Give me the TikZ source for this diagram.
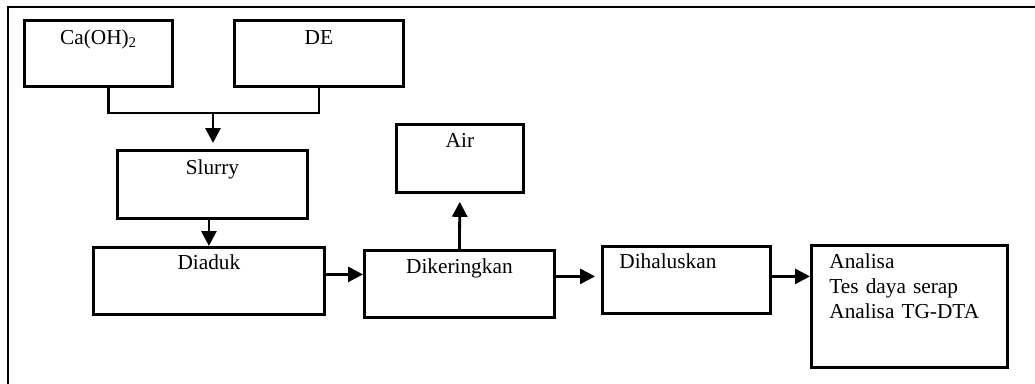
\documentclass[tikz,border=0pt]{standalone}
\usepackage{fontspec}
\setmainfont{Liberation Serif}
\usetikzlibrary{arrows.meta,calc}
\begin{document}
\begin{tikzpicture}[x=1pt,y=-1pt,
  box/.style={draw, line width=2.8pt, inner ysep=0pt, inner xsep=0pt, anchor=north west,
    font=\fontsize{21.3}{25}\selectfont},
  arr/.style={line width=2.8pt, -{Triangle[length=15pt,width=15pt]}},
  conn/.style={line width=2.8pt}]
\useasboundingbox (0,0) rectangle (1035,383);
% outer frame (left and top edges visible)
\coordinate (fbl) at (8,390);
\coordinate (ftl) at (8,7);
\coordinate (ftr) at (1040,7);
\draw[line width=2.8pt] (fbl) -- (ftl) -- (ftr);
% boxes
\node[box, text width=148pt, text height=24pt, text depth=42pt, align=center] (ca) at (23,19) {Ca(OH)\textsubscript{2}};
\node[box, text width=169pt, text height=24pt, text depth=42pt, align=center] (de) at (233,19) {DE};
\node[box, text width=190pt, text height=24pt, text depth=44pt, align=center] (sl) at (116,149) {Slurry};
\node[box, text width=231pt, text height=22pt, text depth=45pt, align=center] (di) at (92,246) {Diaduk};
\node[box, text width=127pt, text height=23pt, text depth=45pt, align=center] (air) at (395,123) {Air};
\node[box, text width=190pt, text height=23pt, text depth=44pt, align=center] (dk) at (363,249) {Dikeringkan};
\node[box, inner xsep=17pt, text width=134pt, text height=22pt, text depth=45pt, align=left] (dh) at (601,245) {Dihaluskan};
\node[box, inner xsep=18pt, text width=160pt, text height=23pt, text depth=99pt, align=left] (an) at (810,244) {Analisa\\Tes daya serap\\Analisa TG-DTA};
% connectors
\coordinate (j) at (213,113);
\draw[conn] ([xshift=10pt]ca.south) |- (j) -| (de.south);
\draw[arr, shorten >=6pt] (j) -- (j |- sl.north);
\draw[arr] (sl.south -| di.north) -- (di.north);
\draw[arr] ([yshift=6.5pt]di.east) -- ([yshift=6.5pt]di.east -| dk.west);
\draw[arr, shorten >=6pt] ([yshift=7.5pt]dk.east) -- ([yshift=7.5pt]dk.east -| dh.west);
\draw[arr] ([yshift=3.5pt]dh.east) -- ([yshift=3.5pt]dh.east -| an.west);
\draw[arr, shorten >=8pt] (dk.north) -- (air.south);
\end{tikzpicture}
\end{document}
